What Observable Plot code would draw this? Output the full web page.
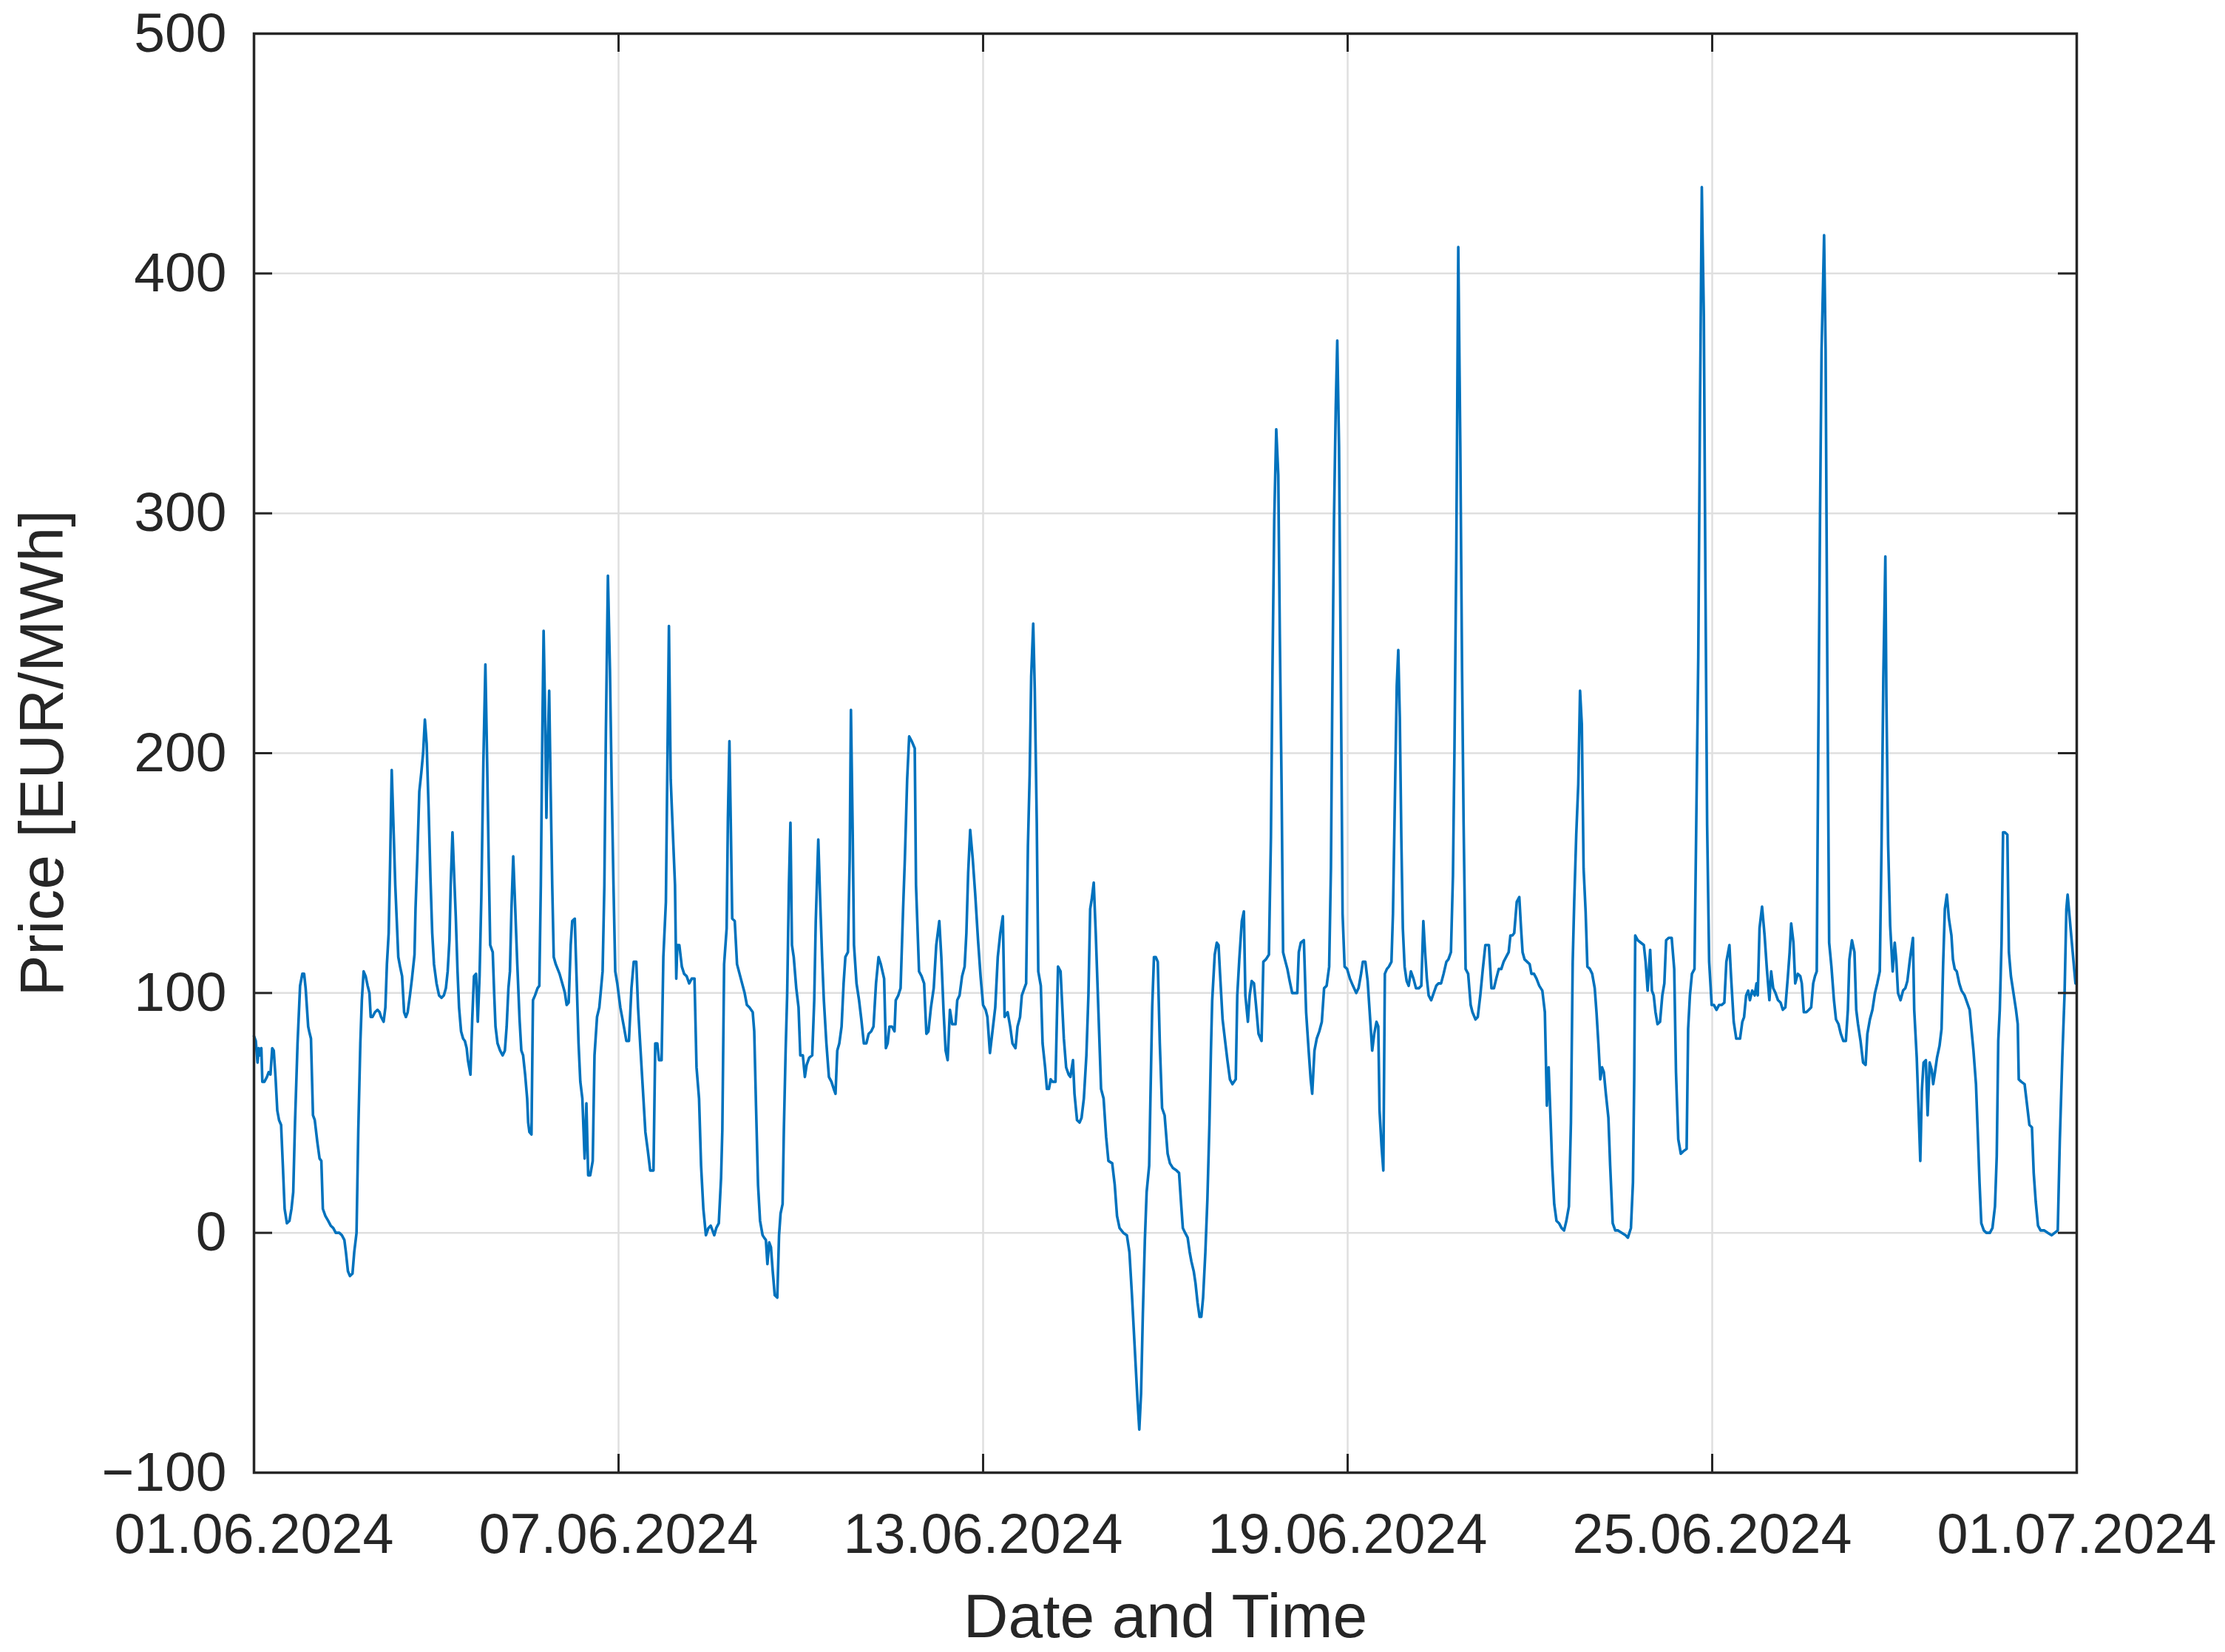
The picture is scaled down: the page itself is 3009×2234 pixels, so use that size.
<!DOCTYPE html>
<html>
<head>
<meta charset="utf-8">
<script src="https://cdn.jsdelivr.net/npm/d3@7"></script>
<script src="https://cdn.jsdelivr.net/npm/@observablehq/plot@0.6"></script>
<style>
html, body { margin: 0; padding: 0; background: #ffffff; }
#chart svg { display: block; }
</style>
</head>
<body>
<div id="chart"></div>
<script>
// Hours since 01.06.2024 00:00
const hours = [
0.0,0.7,1.4,1.9,2.4,2.9,3.3,4.1,5.1,5.8,6.5,7.2,7.8,8.5,9.2,9.9,10.7,11.4,12.1,13.0,14.0,14.8,15.5,16.2,17.2,18.2,19.1,19.8,20.4,21.4,21.8,22.5,23.3,24.0,25.0,25.9,26.6,27.2,28.2,29.3,30.3,31.3,32.3,33.7,34.7,35.7,36.3,37.1,37.9,38.9,39.6,40.5,41.2,42.0,42.6,43.3,44.1,44.9,45.6,46.1,46.8,47.8,48.8,49.6,50.2,51.2,51.9,52.5,53.2,53.8,54.4,55.2,55.8,56.4,57.0,57.7,58.5,59.3,60.0,60.7,61.6,62.4,63.4,63.8,64.5,65.3,66.1,66.8,67.5,68.2,69.0,69.7,70.4,71.1,72.1,73.1,74.1,75.0,75.8,76.5,77.2,77.7,78.4,79.1,79.7,80.4,81.0,81.8,82.6,83.3,84.0,84.5,85.5,86.2,86.9,87.7,88.4,89.1,89.8,90.6,91.4,92.1,92.7,93.3,94.3,94.9,95.4,96.2,97.2,98.2,99.1,99.8,100.5,101.1,101.7,102.4,103.2,104.0,104.9,105.6,106.3,107.1,107.9,108.3,108.8,109.6,110.2,111.0,112.0,112.7,113.3,113.9,114.4,114.9,115.5,116.0,116.6,117.2,117.8,118.4,119.2,120.7,122.3,
122.8,123.5,124.3,125.1,125.7,126.7,127.4,128.2,128.9,129.7,130.6,131.3,132.0,132.8,133.8,134.5,135.5,136.4,137.1,137.7,138.4,139.0,139.8,140.6,141.3,142.0,142.7,143.5,144.7,146.1,147.1,148.1,149.1,150.0,151.0,151.7,152.7,153.6,154.6,155.6,156.5,157.8,158.5,159.3,160.0,161.0,161.7,162.7,163.3,163.9,164.6,165.6,166.3,166.8,167.2,168.0,169.0,169.9,170.9,171.9,172.9,174.0,174.8,175.8,176.6,177.5,178.5,179.5,180.4,181.1,181.8,182.6,183.6,184.5,185.0,185.7,186.7,187.2,187.8,188.4,188.9,189.9,190.8,191.8,192.8,193.8,194.7,195.7,197.0,197.6,198.3,199.1,199.9,200.9,201.5,202.2,202.8,203.5,204.2,204.9,205.7,206.7,207.4,208.0,208.8,209.3,210.0,210.6,211.3,211.9,212.5,213.2,214.2,215.1,215.8,216.8,217.6,218.3,219.3,220.5,221.3,221.9,222.9,223.6,224.4,225.1,226.1,227.1,228.1,229.0,229.7,230.4,231.2,232.1,232.9,233.6,234.6,235.3,235.8,236.5,237.0,238.0,239.0,239.9,240.9,241.9,
242.8,243.8,244.7,245.7,246.7,247.6,248.9,249.6,250.3,251.0,252.0,253.0,253.5,254.5,255.4,256.4,257.1,258.0,258.8,259.8,261.0,261.5,262.7,263.7,264.7,265.6,266.4,267.4,268.5,269.5,270.7,271.5,272.4,273.2,274.0,274.9,275.8,277.1,277.8,278.7,279.7,280.7,281.4,282.1,282.9,283.9,284.9,286.0,287.0,288.0,289.0,289.7,290.7,291.7,292.8,293.8,294.8,295.8,296.5,297.7,298.7,299.6,300.8,301.6,302.6,303.3,304.3,305.0,305.7,306.4,307.0,307.8,308.4,309.2,309.8,310.8,311.5,312.5,313.2,314.0,314.7,315.4,316.6,317.6,318.6,319.9,320.8,321.8,322.5,323.5,324.1,325.1,326.1,326.9,327.8,328.8,329.6,330.3,330.9,331.7,332.5,333.5,334.6,335.6,336.6,337.5,339.0,340.0,340.9,341.9,343.4,344.8,345.8,346.8,347.7,349.0,349.7,350.4,351.1,351.9,352.6,353.6,354.1,354.8,355.5,356.2,357.0,357.8,358.7,359.7,360.9,
361.8,363.0,364.4,365.4,366.1,366.9,367.8,368.8,369.6,370.3,371.2,371.9,372.7,373.5,374.2,374.9,375.8,376.6,377.4,378.0,378.5,379.5,380.3,381.0,381.6,382.6,383.6,384.5,385.5,386.5,387.8,388.4,389.2,390.2,391.0,391.6,392.6,393.3,394.1,395.0,395.8,396.8,398.0,398.7,399.7,400.9,401.7,402.3,403.0,403.8,404.6,405.2,405.9,406.5,407.2,408.2,409.1,410.1,411.1,412.1,412.7,413.5,414.7,415.6,416.6,417.4,418.0,418.9,419.8,420.8,421.8,422.7,423.7,424.7,425.4,425.9,426.6,427.3,427.9,428.6,429.3,430.0,430.8,431.8,432.9,434.1,435.4,436.3,437.3,438.0,439.0,439.9,440.9,441.7,442.5,443.4,444.1,444.6,445.4,446.1,446.7,447.5,448.3,449.3,449.9,450.6,451.4,452.0,452.6,453.2,453.8,454.5,455.3,456.1,457.0,458.0,459.0,460.2,461.1,461.9,462.6,463.3,464.0,465.0,466.0,467.0,467.9,468.9,469.9,471.0,471.8,472.8,473.6,474.2,474.9,475.7,476.5,477.2,477.8,478.6,479.6,480.6,
481.3,482.5,483.4,484.4,485.4,486.4,487.1,487.8,488.8,489.8,490.7,491.7,492.7,493.6,494.6,495.6,496.3,497.1,497.8,498.8,499.8,500.5,501.1,501.9,502.9,503.9,504.6,505.6,506.6,507.7,508.9,509.9,510.7,511.4,512.1,512.8,513.6,514.5,515.5,516.5,517.5,518.4,519.4,520.2,520.9,521.5,522.3,523.1,523.8,524.5,525.2,526.0,526.7,527.7,528.6,529.6,530.3,531.1,531.8,532.5,533.2,534.0,535.0,535.7,536.7,537.7,538.8,540.3,541.8,542.7,543.9,544.7,545.2,545.6,546.6,547.8,549.0,549.7,550.5,551.5,552.2,552.9,553.6,554.4,555.4,556.3,557.1,557.8,558.8,560.0,561.0,561.7,562.6,563.6,564.6,565.9,566.5,567.2,568.0,569.0,569.7,570.5,571.2,571.9,572.7,573.3,574.0,574.8,575.8,576.7,577.7,578.7,579.7,580.8,581.6,582.8,583.5,584.5,585.5,587.0,587.9,588.6,589.4,590.2,590.9,591.8,592.8,593.5,594.0,594.7,595.7,596.7,597.6,598.6,599.3,600.1,
601.0,602.0,603.0,603.9,604.9,605.9,606.6,607.2,608.1,608.8,609.8,610.8,611.4,612.2,613.2,614.2,615.1,615.9,616.6,617.3,617.9,618.6,619.2,619.8,620.2,620.8,621.5,622.2,623.1,624.1,624.9,625.9,626.8,627.8,628.8,629.6,630.2,631.2,632.2,632.9,633.6,634.6,635.6,636.6,637.3,638.3,639.3,640.3,641.2,642.2,642.9,643.6,644.4,644.8,645.5,646.3,647.3,648.1,648.7,649.4,650.4,651.4,652.3,653.1,654.1,655.3,655.8,656.8,657.5,658.2,658.8,659.5,660.4,661.1,661.9,662.7,663.3,664.0,664.8,665.8,666.6,667.2,667.9,668.7,669.5,670.5,671.1,671.8,672.6,673.6,674.5,675.7,676.7,677.7,678.4,679.2,680.2,680.9,681.6,682.3,683.3,684.3,685.7,686.7,687.7,688.4,689.0,689.6,690.3,690.9,691.6,692.6,693.2,694.0,695.0,696.0,696.7,697.1,698.1,699.4,700.3,701.3,702.3,703.0,703.8,704.7,705.7,707.2,708.6,710.1,711.3,712.5,713.3,714.3,715.2,715.9,716.4,717.4,718.4,719.5
];
// Day-ahead price in EUR/MWh at those hours
const prices = [
82,80,71,77,74,77,63,63,65,67,66,77,76,65,51,47,45,28,10,4,5,10,17,46,79,103,108,108,102,86,84,81,49,47,38,31,30,10,7,5,3,2,0,0,-1,-3,-8,-16,-18,-17,-8,0,43,79,97,109,107,103,100,90,90,92,93,92,90,88,94,112,125,156,193,166,145,130,115,111,107,92,90,92,99,106,116,135,156,184,192,200,214,204,176,148,125,112,104,99,98,99,102,109,122,145,167,148,132,109,94,84,81,80,77,72,66,89,107,108,88,107,140,196,237,196,156,120,117,99,86,79,76,74,76,86,102,109,135,157,135,112,89,76,74,66,56,46,42,41,97,99,102,103,145,209,251,222,173,202,226,184,145,115,112,108,102,
100,95,96,120,130,131,107,79,63,56,31,54,24,24,30,74,90,94,102,109,145,209,274,235,186,145,109,104,94,86,80,80,102,113,113,94,76,60,42,34,26,26,79,79,72,72,115,138,196,253,189,163,145,106,120,120,111,108,107,104,106,106,69,56,28,10,-1,2,3,1,-1,2,4,23,43,112,127,173,205,166,131,130,112,108,104,100,95,94,92,84,53,20,5,-1,-2,-3,-13,-4,-6,-16,-26,-27,-1,8,12,43,76,99,145,171,120,115,102,94,74,74,65,70,73,74,97,130,164,140,115,97,79,65,63,60,58,76,79,86,104,115,117,156,218,166,120,104,97,89,79,79,
83,84,86,104,115,112,106,77,79,86,86,84,97,99,102,135,156,189,207,205,202,145,109,107,104,83,84,94,102,120,130,115,92,76,72,93,87,87,97,99,107,111,125,150,168,156,141,122,107,95,93,90,75,84,94,115,125,132,90,92,86,79,77,86,90,99,102,104,161,191,232,254,227,171,109,103,79,69,60,60,64,63,63,111,109,81,69,66,65,72,58,47,46,48,56,74,99,135,139,146,125,94,60,56,40,30,29,20,7,2,0,-1,-8,-26,-44,-70,-82,-67,-34,-3,17,28,56,94,115,115,113,79,52,49,33,
29,27,26,25,14,2,0,-2,-8,-12,-16,-21,-29,-35,-35,-27,-8,14,45,76,97,116,121,120,108,89,80,72,64,62,64,99,114,130,134,99,88,99,105,104,95,83,80,113,114,116,165,234,297,335,316,250,187,117,114,110,105,100,100,100,117,121,122,92,76,64,58,76,81,84,88,102,103,111,152,218,297,344,372,328,234,133,111,110,106,103,100,102,108,113,113,105,89,76,83,88,86,51,36,26,108,110,111,113,133,177,228,243,215,165,127,111,105,103,109,106,102,102,103,130,117,106,99,97,100,103,104,104,108,113,114,117,149,202,281,411,328,234,171,110,108,95,
92,89,90,99,110,120,120,120,102,102,106,110,110,113,115,117,124,124,125,138,140,127,117,114,113,112,108,108,106,103,101,92,53,69,49,28,12,5,4,2,1,5,11,46,113,138,166,187,226,212,152,134,111,110,108,102,92,78,64,69,67,58,48,28,4,1,1,0,-1,-2,2,21,64,124,122,121,120,113,101,118,101,99,92,87,88,99,104,122,123,123,110,67,39,33,34,35,85,99,108,110,170,240,346,436,382,276,170,113,95,95,93,95,95,96,113,120,106,88,81,81,88,90,99,101,97,101,99,104,99,127,136,124,110,97,109,102,
100,97,96,93,94,107,117,129,121,104,108,107,104,92,92,93,94,104,107,109,203,299,368,396,416,368,231,121,111,97,89,87,83,80,80,93,114,122,117,93,87,80,71,70,83,89,93,100,104,109,162,231,282,224,162,128,109,121,114,100,97,101,102,105,114,123,93,73,52,30,59,71,72,49,71,68,62,67,73,78,85,111,135,141,131,124,114,110,109,104,101,99,96,93,85,76,62,42,21,4,1,0,0,2,11,32,80,93,121,167,167,166,117,107,100,93,87,64,63,62,54,45,44,25,13,3,1,1,0,-1,0,1,38,73,100,135,141,129,117,104
];
const yTicks = [-100, 0, 100, 200, 300, 400, 500];
const xTickLabels = ["01.06.2024", "07.06.2024", "13.06.2024", "19.06.2024", "25.06.2024", "01.07.2024"];
const xLabel = "Date and Time";
const yLabel = "Price [EUR/MWh]";

const start = Date.UTC(2024, 5, 1);
const data = hours.map((h, i) => ({t: new Date(start + h * 3600e3), v: prices[i]}));
const parseTick = d3.utcParse("%d.%m.%Y");
const xTicks = xTickLabels.map(parseTick);
const labelByTime = new Map(xTicks.map((d, i) => [+d, xTickLabels[i]]));

const W = 3009, H = 2234;
const mL = 343, mR = 201, mT = 45, mB = 243;
const innerW = W - mL - mR, innerH = H - mT - mB;
const tickLen = 25;
const font = "'Liberation Sans', Arial, Helvetica, sans-serif";
const ink = "#262626";
const gridColor = "#dfdfdf";

const chart = Plot.plot({
  width: W,
  height: H,
  marginLeft: mL, marginRight: mR, marginTop: mT, marginBottom: mB,
  style: {fontFamily: font, background: "#ffffff", color: ink},
  x: {type: "utc", domain: [xTicks[0], xTicks[xTicks.length - 1]]},
  y: {domain: [-100, 500]},
  marks: [
    Plot.gridX(xTicks, {stroke: gridColor, strokeOpacity: 1, strokeWidth: 2.5}),
    Plot.gridY(yTicks, {stroke: gridColor, strokeOpacity: 1, strokeWidth: 2.5}),
    Plot.line(data, {x: "t", y: "v", stroke: "#0072BD", strokeWidth: 3.6, strokeLinejoin: "round"}),
    Plot.tickY(yTicks, {y: d => d, insetRight: innerW - tickLen, stroke: ink, strokeWidth: 3}),
    Plot.tickY(yTicks, {y: d => d, insetLeft: innerW - tickLen, stroke: ink, strokeWidth: 3}),
    Plot.tickX(xTicks, {x: d => d, insetTop: innerH - tickLen, stroke: ink, strokeWidth: 3}),
    Plot.tickX(xTicks, {x: d => d, insetBottom: innerH - tickLen, stroke: ink, strokeWidth: 3}),
    Plot.frame({stroke: ink, strokeWidth: 3.5}),
    Plot.axisY(yTicks, {tickSize: 0, tickPadding: 37, fontSize: 75, color: ink, label: null, tickFormat: d3.format("d")}),
    Plot.axisX(xTicks, {tickSize: 0, tickPadding: 55, fontSize: 75.5, color: ink, label: null, tickFormat: d => labelByTime.get(+d)}),
    Plot.text([xLabel], {text: d => d, frameAnchor: "bottom", dy: 222, lineAnchor: "bottom", fontSize: 84, fill: ink}),
    Plot.text([yLabel], {text: d => d, frameAnchor: "left", dx: -259, rotate: -90, textAnchor: "middle", lineAnchor: "bottom", fontSize: 84, fill: ink})
  ]
});
document.getElementById("chart").appendChild(chart);
</script>
</body>
</html>
